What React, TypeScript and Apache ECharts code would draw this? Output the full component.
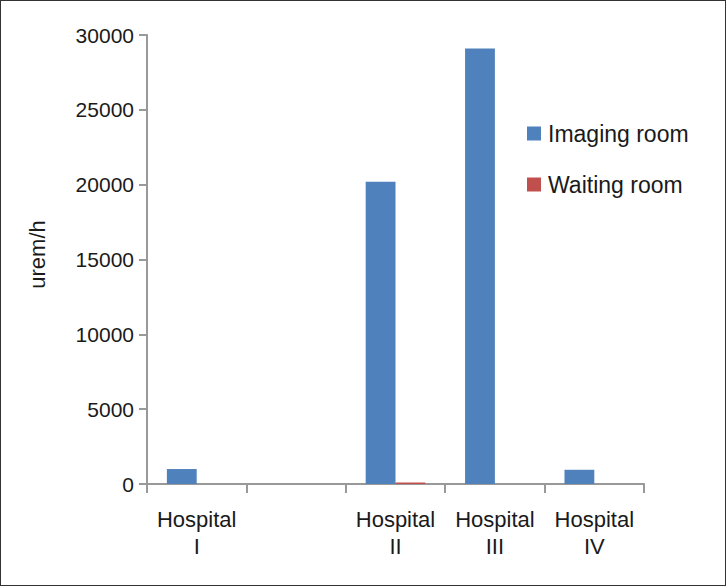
import React, { useEffect, useRef } from "react";
import * as echarts from "echarts";

const categories = ["Hospital\nI", "", "Hospital\nII", "Hospital\nIII", "Hospital\nIV"];
const imagingRoom = [1000, null, 20200, 29100, 950];
const waitingRoom = [null, null, 100, null, null];
const yTicks = [0, 5000, 10000, 15000, 20000, 25000, 30000];

export default function App() {
  const ref = useRef<HTMLDivElement>(null);
  useEffect(() => {
    if (!ref.current) return;
    const chart = echarts.init(ref.current, null, { renderer: "svg" });
    const font = "Liberation Sans, Arial, sans-serif";
    chart.setOption({
      animation: false,
      backgroundColor: "#ffffff",
      grid: { left: 146, right: 81, top: 34, bottom: 101, containLabel: false },
      legend: {
        orient: "vertical",
        left: 521,
        top: 116,
        itemWidth: 14,
        itemHeight: 14,
        itemGap: 28,
        icon: "rect",
        textStyle: { fontFamily: font, fontSize: 23, color: "#1a1a1a", padding: [0, 0, 0, 2] },
        data: ["Imaging room", "Waiting room"],
      },
      xAxis: {
        type: "category",
        data: categories,
        axisLine: { lineStyle: { color: "#999", width: 2 } },
        axisTick: { show: true, length: 9, lineStyle: { color: "#999", width: 2 } },
        axisLabel: {
          fontFamily: font,
          fontSize: 22,
          color: "#1a1a1a",
          margin: 22,
          lineHeight: 27,
          interval: 0,
        },
      },
      yAxis: {
        type: "value",
        min: yTicks[0],
        max: yTicks[yTicks.length - 1],
        interval: 5000,
        name: "urem/h",
        nameLocation: "middle",
        nameGap: 99,
        nameRotate: 90,
        nameTextStyle: { fontFamily: font, fontSize: 22, color: "#1a1a1a", padding: [0, 0, 0, 10] },
        axisLine: { show: true, lineStyle: { color: "#999", width: 2 } },
        axisTick: { show: true, length: 8, lineStyle: { color: "#999", width: 2 } },
        splitLine: { show: false },
        axisLabel: {
          fontFamily: font,
          fontSize: 21,
          color: "#1a1a1a",
          margin: 13,
          formatter: (v: number) => String(v),
        },
      },
      series: [
        {
          name: "Imaging room",
          type: "bar",
          data: imagingRoom,
          itemStyle: { color: "#4F81BD" },
          barGap: "0%",
          barCategoryGap: "40%",
        },
        {
          name: "Waiting room",
          type: "bar",
          data: waitingRoom,
          itemStyle: { color: "#C0504D" },
          barGap: "0%",
          barCategoryGap: "40%",
        },
      ],
    });
    return () => chart.dispose();
  }, []);
  return (
    <div
      style={{
        position: "absolute",
        left: 0,
        top: 0,
        width: 726,
        height: 586,
        boxSizing: "border-box",
        border: "1px solid #333",
        background: "#fff",
      }}
    >
      <div ref={ref} style={{ width: 724, height: 584 }} />
    </div>
  );
}
